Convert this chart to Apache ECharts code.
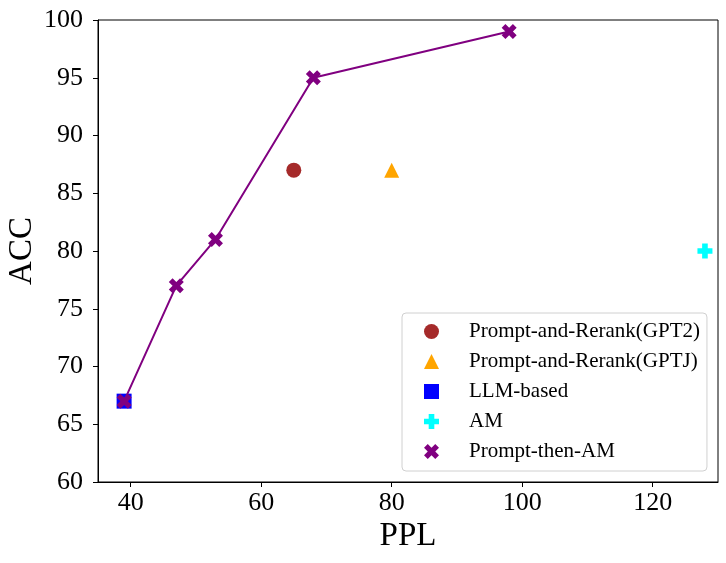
<!DOCTYPE html>
<html>
<head>
<meta charset="utf-8">
<title>PPL vs ACC</title>
<script src="https://cdn.jsdelivr.net/npm/echarts@6/dist/echarts.min.js"></script>
<style>
    html, body { margin: 0; padding: 0; background: #fff; }
    #chart { width: 726px; height: 563px; }
</style>
</head>
<body>
<div id="chart"></div>
<script>
"use strict";
// data: [PPL, ACC]
const gpt2Points = [[65, 87]];
const gptjPoints = [[80, 87]];
const llmPoints = [[39, 67]];
const amPoints = [[128, 80]];
const promptThenAmPoints = [[39, 67], [47, 77], [53, 81], [68, 95], [98, 99]];
const xTicks = [40, 60, 80, 100, 120];
const yTicks = [60, 65, 70, 75, 80, 85, 90, 95, 100];

(() => {
    const FONT = '"Liberation Serif", "Times New Roman", serif';
    const PLUS = 'path://M3.75,0H8.25V3.75H12V8.25H8.25V12H3.75V8.25H0V3.75H3.75Z';
    const CROSS = 'path://M0,3L3,0L6,3L9,0L12,3L9,6L12,9L9,12L6,9L3,12L0,9L3,6Z';
    let chart = echarts.init(document.getElementById('chart'), null, {renderer: 'canvas'});
    let option = {
        animation: false,
        backgroundColor: '#fff',
        grid: {
            left: 98, right: 8, top: 20, bottom: 81,
            outerBoundsMode: 'none',
            containLabel: false,
            show: true, borderColor: '#000', borderWidth: 1, backgroundColor: 'transparent'
        },
        legend: {
            orient: 'vertical',
            left: 402,
            top: 313,
            padding: [8, 7, 9, 22],
            itemWidth: 15,
            itemHeight: 15,
            itemGap: 9,
            backgroundColor: '#fff',
            borderColor: '#d0d0d0',
            borderWidth: 1,
            borderRadius: 4,
            selectedMode: false,
            textStyle: {fontFamily: FONT, fontSize: 21, color: '#000', lineHeight: 21, padding: [0, 0, 0, 25]},
            data: [
                {name: 'Prompt-and-Rerank(GPT2)', icon: 'circle'},
                {name: 'Prompt-and-Rerank(GPTJ)', icon: 'triangle'},
                {name: 'LLM-based', icon: 'rect'},
                {name: 'AM', icon: PLUS},
                {name: 'Prompt-then-AM', icon: CROSS}
            ]
        },
        xAxis: {
            type: 'value',
            min: 35,
            max: 130,
            name: 'PPL',
            nameLocation: 'middle',
            nameGap: 38,
            nameMoveOverlap: false,
            nameTextStyle: {fontFamily: FONT, fontSize: 33, color: '#000'},
            axisLine: {show: true, lineStyle: {color: '#000', width: 1}},
            axisTick: {show: true, length: 5, lineStyle: {color: '#000'}, customValues: xTicks},
            axisLabel: {fontFamily: FONT, fontSize: 26, color: '#000', margin: 8, customValues: xTicks},
            splitLine: {show: false}
        },
        yAxis: {
            type: 'value',
            min: 60,
            max: 100,
            name: 'ACC',
            nameLocation: 'middle',
            nameGap: 59,
            nameMoveOverlap: false,
            nameTextStyle: {fontFamily: FONT, fontSize: 33, color: '#000'},
            axisLine: {show: true, lineStyle: {color: '#000', width: 1}},
            axisTick: {show: true, length: 5, lineStyle: {color: '#000'}, customValues: yTicks},
            axisLabel: {fontFamily: FONT, fontSize: 26, color: '#000', margin: 15, customValues: yTicks},
            splitLine: {show: false}
        },
        series: [
            {
                name: 'Prompt-and-Rerank(GPT2)',
                type: 'scatter',
                symbol: 'circle',
                symbolSize: 15,
                itemStyle: {color: '#a52a2a', opacity: 1},
                data: gpt2Points
            },
            {
                name: 'Prompt-and-Rerank(GPTJ)',
                type: 'scatter',
                symbol: 'triangle',
                symbolSize: 15,
                itemStyle: {color: '#ffa500', opacity: 1},
                data: gptjPoints
            },
            {
                name: 'LLM-based',
                type: 'scatter',
                symbol: 'rect',
                symbolSize: 15,
                itemStyle: {color: '#0000ff', opacity: 1},
                data: llmPoints
            },
            {
                name: 'AM',
                type: 'scatter',
                symbol: PLUS,
                symbolSize: 15,
                itemStyle: {color: '#00ffff', opacity: 1},
                data: amPoints
            },
            {
                name: 'Prompt-then-AM',
                type: 'line',
                symbol: CROSS,
                symbolSize: 15,
                showAllSymbol: true,
                z: 3,
                itemStyle: {color: '#800080', opacity: 1},
                lineStyle: {color: '#800080', width: 2},
                data: promptThenAmPoints
            }
        ]
    };
    chart.setOption(option);
})();
</script>
</body>
</html>
